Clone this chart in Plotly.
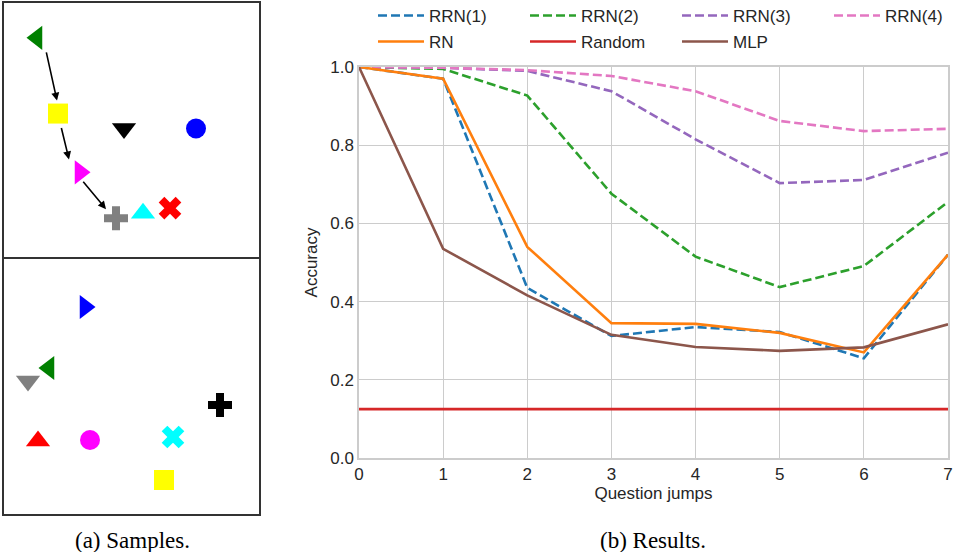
import plotly.graph_objects as go

# ---- Results data ----
jumps = [0, 1, 2, 3, 4, 5, 6, 7]
rrn1 = [1.0, 0.97, 0.435, 0.312, 0.335, 0.322, 0.255, 0.52]
rrn2 = [1.0, 0.995, 0.927, 0.676, 0.515, 0.437, 0.491, 0.655]
rrn3 = [1.0, 0.998, 0.99, 0.938, 0.815, 0.703, 0.711, 0.781]
rrn4 = [1.0, 0.998, 0.992, 0.977, 0.938, 0.862, 0.836, 0.842]
rn = [1.0, 0.97, 0.54, 0.345, 0.343, 0.32, 0.27, 0.52]
random_acc = [0.125] * 8
mlp = [1.0, 0.535, 0.416, 0.315, 0.284, 0.274, 0.283, 0.342]
y_ticks = [0.0, 0.2, 0.4, 0.6, 0.8, 1.0]

# ---- Sample scenes (positions in box pixel units, y downward) ----
s1_x = [33, 54, 120, 192, 76, 112, 139, 166]
s1_y = [35, 111, 126, 126, 170, 216, 211, 206]
s1_sym = ["triangle-left", "square", "triangle-down", "circle",
          "triangle-right", "cross", "triangle-up", "x"]
s1_col = ["green", "yellow", "black", "blue", "magenta", "gray", "cyan", "red"]
arrow_tail_x = [42, 57, 78]
arrow_tail_y = [48, 124, 178]
arrow_head_x = [53, 65, 102]
arrow_head_y = [98, 157, 207]

s2_x = [81, 45, 24, 216, 34, 86, 169, 160]
s2_y = [48, 109, 122, 146, 182, 181, 178, 221]
s2_sym = ["triangle-right", "triangle-left", "triangle-down", "cross",
          "triangle-up", "circle", "x", "square"]
s2_col = ["blue", "green", "gray", "black", "red", "magenta", "cyan", "yellow"]

W, H = 953, 552
fig = go.Figure()

series = [
    ("RRN(1)", rrn1, "#1f77b4", "dash", "legend"),
    ("RRN(2)", rrn2, "#2ca02c", "dash", "legend"),
    ("RRN(3)", rrn3, "#9467bd", "dash", "legend"),
    ("RRN(4)", rrn4, "#e377c2", "dash", "legend"),
    ("RN", rn, "#ff7f0e", "solid", "legend2"),
    ("Random", random_acc, "#d62728", "solid", "legend2"),
    ("MLP", mlp, "#8c564b", "solid", "legend2"),
]
for name, vals, col, dash, leg in series:
    fig.add_trace(go.Scatter(
        x=jumps, y=vals, name=name, mode="lines",
        line=dict(color=col, width=2.6, dash="9px,4px" if dash == "dash" else "solid"),
        legend=leg, xaxis="x", yaxis="y"))

def sym_size(s):
    return 21 if s.startswith("triangle") else 20

for xs, ys, syms, cols, ax, ay in [(s1_x, s1_y, s1_sym, s1_col, "x2", "y2"),
                                   (s2_x, s2_y, s2_sym, s2_col, "x3", "y3")]:
    fig.add_trace(go.Scatter(
        x=xs, y=ys, mode="markers", showlegend=False, hoverinfo="skip",
        marker=dict(symbol=syms, color=cols, size=[sym_size(s) for s in syms],
                    opacity=1, line=dict(width=0)),
        xaxis=ax, yaxis=ay))

for tx, ty, hx, hy in zip(arrow_tail_x, arrow_tail_y, arrow_head_x, arrow_head_y):
    fig.add_annotation(x=hx, y=hy, ax=tx, ay=ty, xref="x2", yref="y2",
                       axref="x2", ayref="y2", showarrow=True, arrowhead=2,
                       arrowsize=1, arrowwidth=1.6, arrowcolor="black", text="")

tick_font = dict(family="Liberation Sans, Arial, sans-serif", size=17, color="#262626")
grid = "#cccccc"

box_ax = dict(range=[0, 255], showgrid=False, zeroline=False, showticklabels=False,
              ticks="", showline=True, linecolor="#333333", linewidth=1.5, mirror=True,
              fixedrange=True)

leg_common = dict(orientation="h", xanchor="left", yanchor="top",
                  entrywidth=91, entrywidthmode="pixels", itemwidth=46,
                  font=tick_font, bgcolor="rgba(0,0,0,0)", traceorder="normal")

fig.update_layout(
    width=W, height=H,
    margin=dict(l=0, r=0, t=0, b=0, autoexpand=False),
    paper_bgcolor="white", plot_bgcolor="white",
    font=tick_font,
    xaxis=dict(domain=[359 / W, 948 / W], range=[0, 7], tickvals=jumps,
               showgrid=True, gridcolor=grid, gridwidth=1, zeroline=False,
               showline=True, linecolor=grid, linewidth=1.5, mirror=True,
               ticks="", tickfont=tick_font,
               title=dict(text="Question jumps", font=tick_font, standoff=4)),
    yaxis=dict(domain=[1 - 458 / H, 1 - 67 / H], range=[0, 1], tickvals=y_ticks,
               tickformat=".1f", showgrid=True, gridcolor=grid, gridwidth=1,
               zeroline=False, showline=True, linecolor=grid, linewidth=1.5,
               mirror=True, ticks="", tickfont=tick_font,
               title=dict(text="Accuracy", font=tick_font, standoff=8)),
    xaxis2=dict(domain=[4 / W, 259 / W], anchor="y2", **box_ax),
    yaxis2=dict(domain=[1 - 257 / H, 1 - 3 / H], anchor="x2",
                **{**box_ax, "range": [255, 0]}),
    xaxis3=dict(domain=[4 / W, 259 / W], anchor="y3", **box_ax),
    yaxis3=dict(domain=[1 - 514 / H, 1 - 259 / H], anchor="x3",
                **{**box_ax, "range": [255, 0]}),
    legend=dict(x=373 / W, y=1 + 2 / H, **leg_common),
    legend2=dict(x=373 / W, y=1 - 24 / H, **leg_common),
    showlegend=True,
)

cap_font = dict(family="Liberation Serif, Times New Roman, serif", size=23, color="black")
fig.add_annotation(text="(a) Samples.", x=132 / W, y=1 - 540 / H, xref="paper",
                   yref="paper", xanchor="center", yanchor="middle",
                   showarrow=False, font=cap_font)
fig.add_annotation(text="(b) Results.", x=653 / W, y=1 - 540 / H, xref="paper",
                   yref="paper", xanchor="center", yanchor="middle",
                   showarrow=False, font=cap_font)

fig.write_html("out.html",
               config={"displayModeBar": False},
               post_script="document.body.style.margin='0px';"
                           "document.body.style.overflow='hidden';")
